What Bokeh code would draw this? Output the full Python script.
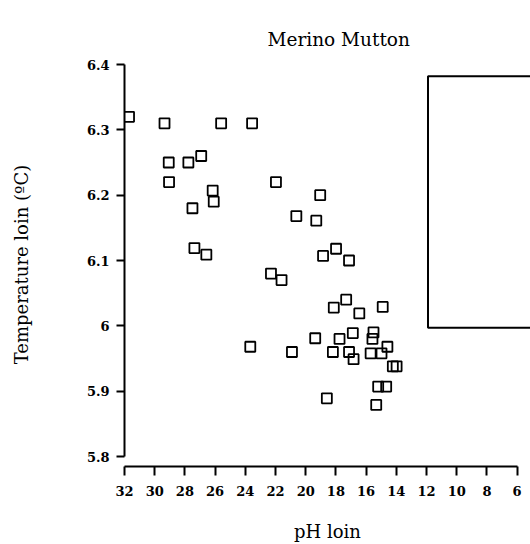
from bokeh.plotting import figure
from bokeh.models import Range1d, FixedTicker, PrintfTickFormatter
from bokeh.embed import file_html
from bokeh.resources import INLINE

# ---- data ----
ph_loin = [31.7, 29.35, 25.6, 23.55, 29.07, 27.77, 26.92, 29.05, 26.16, 26.09,
           27.5, 21.97, 19.04, 20.62, 19.3, 27.37, 26.58, 18.85, 17.99, 17.13,
           22.3, 21.6, 23.67, 20.91, 19.37, 18.14, 17.32, 16.45, 14.9, 17.76,
           16.88, 15.51, 15.58, 14.59, 18.2, 17.13, 16.83, 15.7, 14.98, 14.23,
           13.98, 15.2, 14.67, 18.6, 15.33]
temp_loin = [6.32, 6.31, 6.31, 6.31, 6.25, 6.25, 6.26, 6.22, 6.207, 6.19,
             6.18, 6.22, 6.20, 6.168, 6.161, 6.119, 6.109, 6.107, 6.118, 6.10,
             6.08, 6.07, 5.968, 5.96, 5.981, 6.028, 6.04, 6.019, 6.029, 5.98,
             5.989, 5.99, 5.98, 5.968, 5.96, 5.96, 5.949, 5.958, 5.958, 5.938,
             5.938, 5.907, 5.907, 5.889, 5.879]
x_ticks = [32, 30, 28, 26, 24, 22, 20, 18, 16, 14, 12, 10, 8, 6]
y_ticks = [5.8, 5.9, 6.0, 6.1, 6.2, 6.3, 6.4]
title_text = "Merino Mutton"
x_label = "pH loin"
y_label = "Temperature loin (\u00baC)"
# empty legend frame (data units)
legend_box = dict(left=[11.9], right=[3.0], bottom=[5.997], top=[6.382])

SERIF = "DejaVu Serif"
W, H = 530, 544

p = figure(width=W, height=H, output_backend="svg", toolbar_location=None,
           x_range=Range1d(32, 5.113), y_range=Range1d(5.7847, 6.4031),
           min_border_left=124, min_border_right=0, min_border_top=62,
           min_border_bottom=77, title=title_text)
p.outline_line_color = None
p.xgrid.visible = False
p.ygrid.visible = False
p.background_fill_color = "white"
p.border_fill_color = "white"

p.title.text_font = SERIF
p.title.text_font_size = "18.5px"
p.title.text_font_style = "normal"
p.title.text_color = "black"
p.title.align = "left"
p.title.offset = 143
p.title.standoff = 22
p.title.vertical_align = "top"

for ax in (p.xaxis[0], p.yaxis[0]):
    ax.axis_line_width = 2
    ax.axis_line_color = "black"
    ax.major_tick_line_width = 2
    ax.major_tick_line_color = "black"
    ax.minor_tick_line_color = None
    ax.major_tick_in = 0
    ax.major_label_text_font = SERIF
    ax.major_label_text_font_style = "bold"
    ax.major_label_text_font_size = "13px"
    ax.major_label_text_color = "black"
    ax.axis_label_text_font = SERIF
    ax.axis_label_text_font_size = "18px"
    ax.axis_label_text_font_style = "normal"
    ax.axis_label_text_color = "black"

p.xaxis[0].ticker = FixedTicker(ticks=x_ticks)
p.xaxis[0].major_tick_out = 9
p.xaxis[0].major_label_standoff = 10
p.xaxis[0].bounds = (6, 32)
p.xaxis[0].axis_label = x_label
p.xaxis[0].axis_label_standoff = 22

p.yaxis[0].ticker = FixedTicker(ticks=y_ticks)
p.yaxis[0].formatter = PrintfTickFormatter(format="%g")
p.yaxis[0].major_tick_out = 8
p.yaxis[0].major_label_standoff = 7
p.yaxis[0].bounds = (5.8, 6.4)
p.yaxis[0].axis_label = y_label
p.yaxis[0].axis_label_standoff = 52

p.quad(left=legend_box["left"], right=legend_box["right"],
       bottom=legend_box["bottom"], top=legend_box["top"],
       fill_color=None, line_color="black", line_width=2)

p.scatter(ph_loin, temp_loin, marker="square", size=10, fill_color=None,
          line_color="black", line_width=1.8)

open("out.html", "w").write(file_html(p, INLINE))
